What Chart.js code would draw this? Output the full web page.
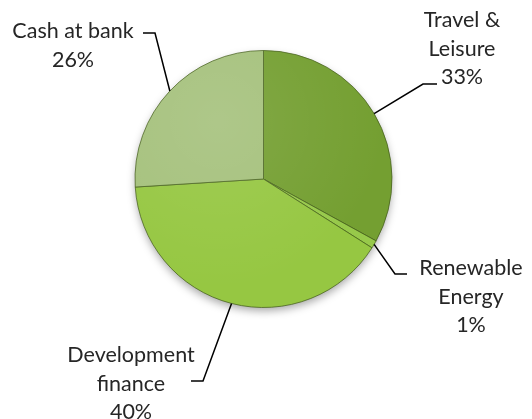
<!DOCTYPE html>
<html>
<head>
<meta charset="utf-8">
<script src="https://cdn.jsdelivr.net/npm/chart.js@4.4.1/dist/chart.umd.min.js"></script>
<style>
  html, body { margin: 0; padding: 0; background: #ffffff; }
  #wrap { width: 532px; height: 419px; }
</style>
</head>
<body>
<div id="wrap"><canvas id="c" width="532" height="419"></canvas></div>
<script>
// Portfolio allocation
const categories = ['Travel & Leisure', 'Renewable Energy', 'Development finance', 'Cash at bank'];
const shares = [33, 1, 40, 26];
// How each category name is broken over lines in its label
const nameLines = [['Travel &', 'Leisure'], ['Renewable', 'Energy'], ['Development', 'finance'], ['Cash at bank']];

const sliceColors = ['#749f31', '#97c94a', '#96c742', '#a5c17c'];
const sliceRims   = ['#5e8722', '#7fae35', '#79aa2a', '#8aa961'];
const sliceCores  = ['#7ca63a', '#a3d45a', '#a2d152', '#adc887'];

// Label placement: text centre x, first baseline y, elbow point and line end
const labelLayout = [
  { tx: 462, ty: 27,  ex: 423, ey: 84,  lx: 437 },
  { tx: 471, ty: 275, ex: 395, ey: 274, lx: 407 },
  { tx: 131, ty: 362, ex: 203, ey: 381, lx: 191 },
  { tx: 73,  ty: 38,  ex: 155, ey: 33,  lx: 143 }
];

function sliceFill(ctx) {
  const chart = ctx.chart;
  const meta = chart.getDatasetMeta(0);
  const arc = meta.data[ctx.dataIndex];
  if (!arc || !arc.outerRadius) return sliceColors[ctx.dataIndex];
  const g = chart.ctx.createRadialGradient(arc.x, arc.y, 0, arc.x, arc.y, arc.outerRadius);
  g.addColorStop(0, sliceCores[ctx.dataIndex]);
  g.addColorStop(0.8, sliceColors[ctx.dataIndex]);
  g.addColorStop(0.92, sliceColors[ctx.dataIndex]);
  g.addColorStop(1, sliceRims[ctx.dataIndex]);
  return g;
}

const pieShadow = {
  id: 'pieShadow',
  beforeDatasetsDraw(chart) {
    const arc = chart.getDatasetMeta(0).data[0];
    if (!arc) return;
    const c = chart.ctx;
    c.save();
    c.shadowColor = 'rgba(0,0,0,0.35)';
    c.shadowBlur = 9;
    c.shadowOffsetY = 4;
    c.fillStyle = '#84ad40';
    c.beginPath();
    c.arc(arc.x, arc.y, arc.outerRadius - 0.5, 0, Math.PI * 2);
    c.fill();
    c.restore();
  },
  afterDatasetsDraw(chart) {
    const arc = chart.getDatasetMeta(0).data[0];
    if (!arc) return;
    const c = chart.ctx;
    const r = arc.outerRadius;
    c.save();
    c.beginPath();
    c.arc(arc.x, arc.y, r, 0, Math.PI * 2);
    c.clip();
    // soft light from the upper left
    const h = c.createRadialGradient(arc.x - r * 0.35, arc.y - r * 0.45, 0, arc.x - r * 0.35, arc.y - r * 0.45, r * 1.3);
    h.addColorStop(0, 'rgba(255,255,255,0.10)');
    h.addColorStop(1, 'rgba(255,255,255,0)');
    c.fillStyle = h;
    c.fillRect(arc.x - r, arc.y - r, r * 2, r * 2);
    c.restore();
  }
};

const leaderLabels = {
  id: 'leaderLabels',
  afterDraw(chart) {
    const c = chart.ctx;
    const meta = chart.getDatasetMeta(0);
    c.save();
    meta.data.forEach((arc, i) => {
      const L = labelLayout[i];
      const mid = (arc.startAngle + arc.endAngle) / 2;
      const ax = arc.x + arc.outerRadius * Math.cos(mid);
      const ay = arc.y + arc.outerRadius * Math.sin(mid);
      c.strokeStyle = '#000000';
      c.lineWidth = 1.5;
      c.beginPath();
      c.moveTo(ax, ay);
      c.lineTo(L.ex, L.ey);
      c.lineTo(L.lx, L.ey);
      c.stroke();

      const lines = nameLines[i].concat([shares[i] + '%']);
      c.fillStyle = '#262626';
      c.font = '21.5px Lato, "Liberation Sans", sans-serif';
      c.textAlign = 'center';
      c.textBaseline = 'alphabetic';
      lines.forEach((t, k) => c.fillText(t, L.tx, L.ty + k * 28.5));
    });
    c.restore();
  }
};

new Chart(document.getElementById('c'), {
  type: 'pie',
  data: {
    labels: categories,
    datasets: [{
      data: shares,
      backgroundColor: sliceFill,
      borderColor: 'rgba(70,95,30,0.75)',
      borderWidth: 1
    }]
  },
  options: {
    responsive: false,
    animation: false,
    layout: { padding: { left: 134, right: 139, top: 50, bottom: 111 } },
    plugins: {
      legend: { display: false },
      tooltip: { enabled: false }
    }
  },
  plugins: [pieShadow, leaderLabels]
});
</script>
</body>
</html>
